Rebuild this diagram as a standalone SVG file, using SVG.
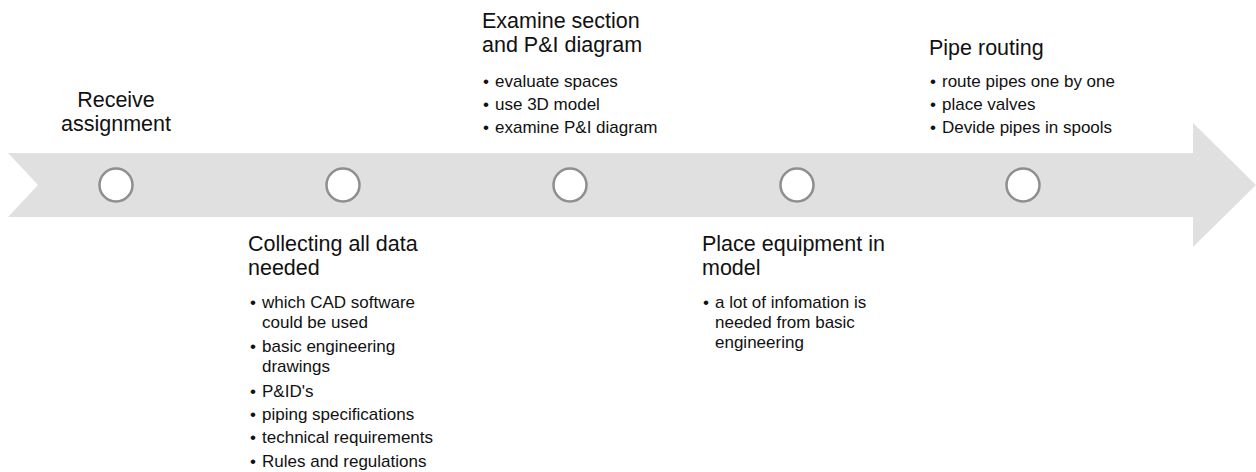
<svg xmlns="http://www.w3.org/2000/svg" width="1256" height="472" viewBox="0 0 1256 472">
<style>
.band{fill:#e0e0e0}
.dot{fill:#ffffff;stroke:#8f8f8f;stroke-width:2.5}
.t{font-family:"Liberation Sans",Arial,sans-serif;font-size:21.5px;fill:#111}
.b{font-family:"Liberation Sans",Arial,sans-serif;font-size:17px;fill:#111}
</style>
<rect width="1256" height="472" fill="#ffffff"/>
<g id="connectors">
<polygon class="band" points="8,153 1193,153 1193,123 1256,185 1193,247 1193,217 8,217 38,185"/>
</g>
<g id="n1">
<circle class="dot" cx="116" cy="185" r="16.5"/>
<text class="t" x="116" y="107" text-anchor="middle">Receive</text>
<text class="t" x="116" y="131" text-anchor="middle">assignment</text>
</g>
<g id="n2">
<circle class="dot" cx="343" cy="185" r="16.5"/>
<text class="t" x="248" y="251">Collecting all data</text>
<text class="t" x="248" y="275">needed</text>
<text class="b" x="250" y="308">•</text><text class="b" x="262" y="308">which CAD software</text>
<text class="b" x="262" y="328">could be used</text>
<text class="b" x="250" y="352">•</text><text class="b" x="262" y="352">basic engineering</text>
<text class="b" x="262" y="372">drawings</text>
<text class="b" x="250" y="397">•</text><text class="b" x="262" y="397">P&amp;ID's</text>
<text class="b" x="250" y="420">•</text><text class="b" x="262" y="420">piping specifications</text>
<text class="b" x="250" y="443">•</text><text class="b" x="262" y="443">technical requirements</text>
<text class="b" x="250" y="467">•</text><text class="b" x="262" y="467">Rules and regulations</text>
</g>
<g id="n3">
<circle class="dot" cx="570" cy="185" r="16.5"/>
<text class="t" x="482" y="28">Examine section</text>
<text class="t" x="482" y="52">and P&amp;I diagram</text>
<text class="b" x="483" y="87">•</text><text class="b" x="495" y="87">evaluate spaces</text>
<text class="b" x="483" y="110">•</text><text class="b" x="495" y="110">use 3D model</text>
<text class="b" x="483" y="133">•</text><text class="b" x="495" y="133">examine P&amp;I diagram</text>
</g>
<g id="n4">
<circle class="dot" cx="797" cy="185" r="16.5"/>
<text class="t" x="702" y="251">Place equipment in</text>
<text class="t" x="702" y="275">model</text>
<text class="b" x="703" y="308">•</text><text class="b" x="715" y="308">a lot of infomation is</text>
<text class="b" x="715" y="328">needed from basic</text>
<text class="b" x="715" y="348">engineering</text>
</g>
<g id="n5">
<circle class="dot" cx="1023" cy="185" r="16.5"/>
<text class="t" x="929" y="55">Pipe routing</text>
<text class="b" x="930" y="87">•</text><text class="b" x="942" y="87">route pipes one by one</text>
<text class="b" x="930" y="110">•</text><text class="b" x="942" y="110">place valves</text>
<text class="b" x="930" y="133">•</text><text class="b" x="942" y="133">Devide pipes in spools</text>
</g>
</svg>
